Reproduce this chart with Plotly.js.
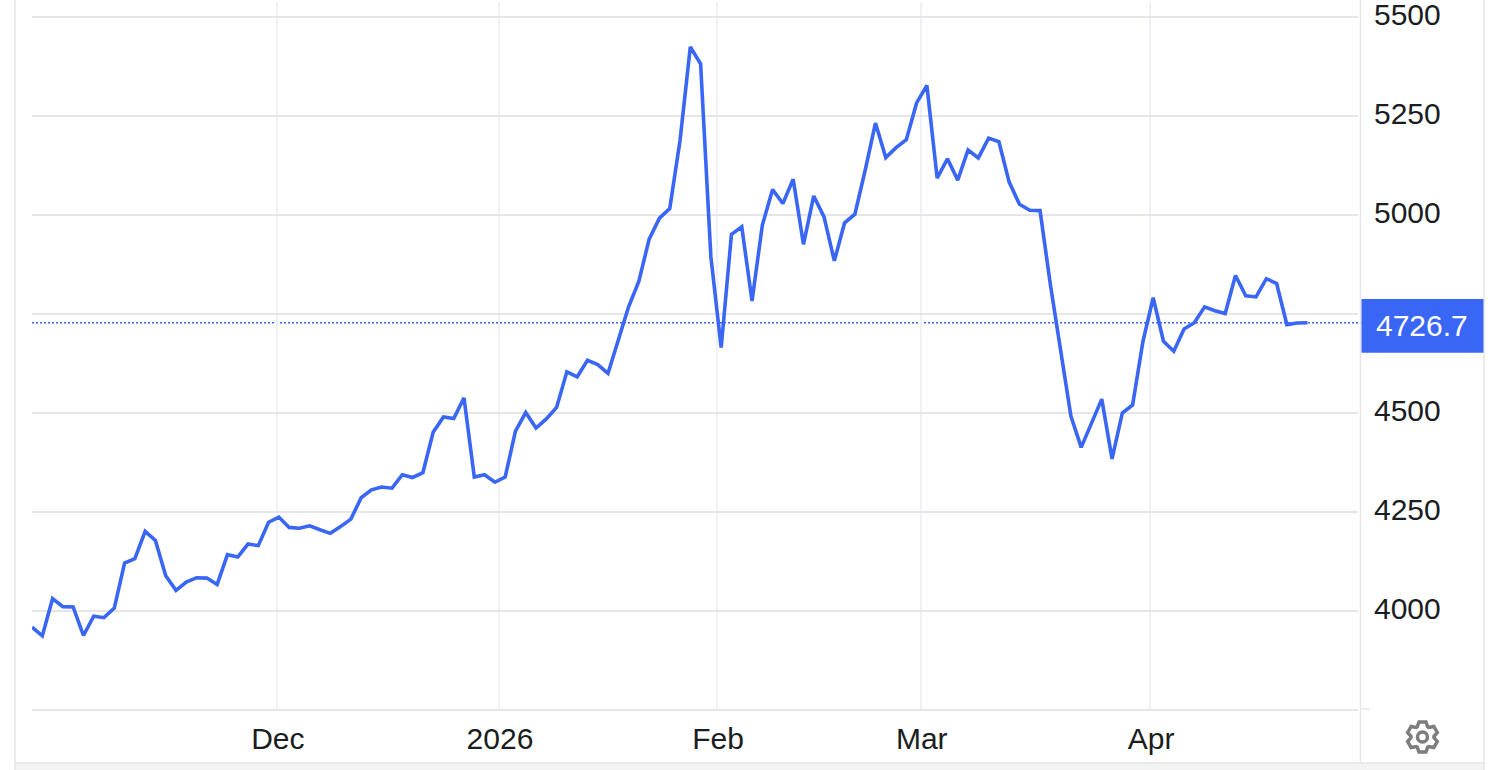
<!DOCTYPE html>
<html><head><meta charset="utf-8">
<script src="https://cdn.plot.ly/plotly-3.0.1.min.js"></script>
<style>html,body{margin:0;padding:0;background:#fff;overflow:hidden}#chart{width:1506px;height:770px}</style>
</head><body><div id="chart"></div>
<script>
const prices = [3958,3936,4030,4010,4009,3937,3986,3982,4006,4120,4131,4200,4177,4088,4051,4072,4083,4082,4066,4141,4135,4168,4164,4223,4236,4210,4208,4214,4204,4195,4212,4231,
4285,4305,4312,4309,4343,4336,4348,4450,4489,4485,4537,4337,4343,4324,4337,4453,4500,4461,4484,4513,4603,4590,4632,4621,4599,4683,
4767,4832,4938,4991,5015,5187,5423,5381,4893,4664,4950,4969,4782,4973,5063,5028,5089,4925,5047,4994,4883,
4979,5001,5112,5231,5144,5169,5189,5282,5326,5092,5141,5087,5163,5143,5193,5184,5082,5026,5011,5010,4824,4653,
4491,4412,4473,4534,4383,4499,4519,4679,4790,4680,4655,4711,4727,4767,4757,4750,4846,4795,4792,4838,4826,4722,4726,4726.7];
const sessionIndex = prices.map((_, i) => i);
const monthTicks = [23.8, 45.4, 66.6, 86.4, 108.7];
const monthLabels = ['Dec', '2026', 'Feb', 'Mar', 'Apr'];
const priceTicks = [4000, 4250, 4500, 4750, 5000, 5250, 5500];
const priceLabels = ['4000', '4250', '4500', '', '5000', '5250', '5500'];
const lastPrice = prices[prices.length - 1];

const W = 1506, H = 770, L = 32, R = 1358.5, T = 2, B = 709;
const BLUE = '#3a66f5', RULE = '#e6e6e8', INK = '#1a1d21';
const fx = px => (px - L) / (R - L);
const fy = py => (B - py) / (B - T);
function rule(x0, y0, x1, y1, color, width) {
  return {type: 'line', xref: 'paper', yref: 'paper', x0: fx(x0), y0: fy(y0), x1: fx(x1), y1: fy(y1),
          line: {color: color, width: width}};
}
function gearPath(cx, cy) {
  const teeth = 6, outer = 15.5, inner = 11.5, pts = [];
  for (let k = 0; k < teeth; k++) {
    const a = -90 + k * 60;
    [[-27, inner], [-13, outer], [13, outer], [27, inner]].forEach(p => {
      const t = (a + p[0]) * Math.PI / 180;
      pts.push([cx + p[1] * Math.cos(t), cy + p[1] * Math.sin(t)]);
    });
  }
  return 'M' + pts.map(p => fx(p[0]).toFixed(5) + ',' + fy(p[1]).toFixed(5)).join('L') + 'Z';
}
const shapes = [
  {type: 'rect', xref: 'paper', yref: 'paper', x0: fx(15), x1: fx(1484.5), y0: fy(763), y1: fy(770), fillcolor: '#f3f3f4', line: {width: 0}},
  rule(15, 0, 15, 770, RULE, 1.5),
  rule(1484.5, 0, 1484.5, 770, RULE, 1.5),
  rule(15, 763, 1484.5, 763, RULE, 1.5),
  rule(1361, 0, 1361, 763, RULE, 1.5),
  rule(1362, 709, 1370, 709, RULE, 1.5),
  {type: 'line', xref: 'paper', yref: 'y', x0: 0, x1: fx(1362), y0: lastPrice, y1: lastPrice,
   line: {color: BLUE, width: 1.5, dash: '2px,2px'}, layer: 'below'},
  {type: 'rect', xref: 'paper', yref: 'paper', x0: fx(1362), x1: fx(1484), y0: fy(299), y1: fy(352.7), fillcolor: BLUE, line: {width: 0}},
  {type: 'path', xref: 'paper', yref: 'paper', path: gearPath(1423, 737), line: {color: '#7d7d7d', width: 3.5}, fillcolor: 'rgba(0,0,0,0)'},
  {type: 'circle', xref: 'paper', yref: 'paper', x0: fx(1418), x1: fx(1428), y0: fy(742), y1: fy(732), line: {color: '#7d7d7d', width: 3.5}}
];
const trace = {type: 'scatter', mode: 'lines', x: sessionIndex, y: prices, hoverinfo: 'x+y',
  line: {color: BLUE, width: 3.6, shape: 'linear'}, cliponaxis: true};
const layout = {
  width: W, height: H, showlegend: false, paper_bgcolor: '#fff', plot_bgcolor: '#fff',
  margin: {l: L, r: W - R, t: T, b: H - B, pad: 0},
  font: {family: '"Liberation Sans", Arial, sans-serif', size: 30, color: INK},
  xaxis: {type: 'linear', range: [0, (R - L) / 10.29], tickmode: 'array', tickvals: monthTicks, ticktext: monthLabels,
    showgrid: true, gridcolor: '#eef1f5', gridwidth: 2, zeroline: false, showline: true, linecolor: RULE, linewidth: 2,
    ticks: '', ticklabelstandoff: 2, ticklabelshift: 1, tickfont: {size: 30, color: INK}, fixedrange: true},
  yaxis: {type: 'linear', side: 'right', range: [3751.4, 5536.8], tickmode: 'array', tickvals: priceTicks, ticktext: priceLabels,
    showgrid: true, gridcolor: RULE, gridwidth: 2, zeroline: false, showline: false, ticklabeloverflow: 'allow',
    ticks: '', ticklabelstandoff: 15, ticklabelshift: -2, tickfont: {size: 30, color: INK}, fixedrange: true},
  shapes: shapes,
  annotations: [{xref: 'paper', yref: 'paper', x: fx(1423), y: fy(326), text: lastPrice.toFixed(1), showarrow: false,
    xanchor: 'center', yanchor: 'middle', font: {size: 30, color: '#ffffff'}}]
};
Plotly.newPlot('chart', [trace], layout, {displayModeBar: false, staticPlot: false});
</script></body></html>
